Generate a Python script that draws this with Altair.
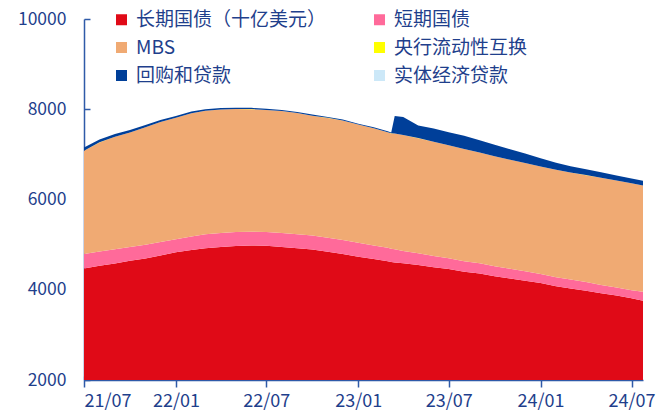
import altair as alt
import pandas as pd

dates = [
    "2021-07-01", "2021-08-01", "2021-09-01", "2021-10-01", "2021-11-01", "2021-12-01",
    "2022-01-01", "2022-02-01", "2022-03-01", "2022-04-01", "2022-05-01", "2022-06-01",
    "2022-07-01", "2022-08-01", "2022-09-01", "2022-10-01", "2022-11-01", "2022-12-01",
    "2023-01-01", "2023-02-01", "2023-03-01", "2023-03-08", "2023-03-15",
    "2023-04-01", "2023-05-01", "2023-06-01", "2023-07-01", "2023-08-01", "2023-09-01",
    "2023-10-01", "2023-11-01", "2023-12-01", "2024-01-01", "2024-02-01", "2024-03-01",
    "2024-04-01", "2024-05-01", "2024-06-01", "2024-07-01", "2024-07-24",
]

long_tsy = [4470, 4530, 4580, 4640, 4690, 4760, 4830, 4880, 4920, 4950, 4970, 4980,
            4975, 4950, 4920, 4890, 4840, 4790, 4730, 4680, 4630, 4615, 4605,
            4590, 4550, 4500, 4460, 4400, 4360, 4300, 4250, 4200, 4150, 4080, 4030,
            3980, 3920, 3870, 3810, 3755]
bills = [320, 320, 320, 310, 310, 300, 290, 300, 310, 310, 310, 305,
         305, 310, 310, 310, 310, 310, 310, 300, 300, 295, 290,
         270, 260, 250, 240, 232, 225, 220, 215, 208, 200, 198, 195,
         190, 185, 182, 180, 200]
mbs = [2290, 2415, 2490, 2535, 2600, 2655, 2690, 2732, 2735, 2732, 2725, 2717,
       2704, 2700, 2686, 2657, 2658, 2649, 2620, 2600, 2560, 2555, 2565,
       2570, 2550, 2530, 2500, 2488, 2455, 2440, 2415, 2402, 2380, 2382, 2375,
       2370, 2375, 2368, 2370, 2355]
swaps = [1] * 40
repo = [70, 65, 60, 55, 50, 45, 40, 38, 35, 33, 30, 28,
        26, 25, 24, 23, 22, 21, 20, 20, 20, 20, 390,
        400, 280, 290, 290, 290, 271, 253, 234, 206, 181, 153, 136,
        130, 123, 113, 106, 103]
real_loans = [0] * 40

series_names = ["长期国债（十亿美元）", "短期国债", "MBS", "央行流动性互换", "回购和贷款", "实体经济贷款"]
series_vals = [long_tsy, bills, mbs, swaps, repo, real_loans]
colors = ["#E00A17", "#FF6A9A", "#F0AA73", "#FFFF00", "#003F99", "#CCE8F8"]

rows = []
for k, (name, vals) in enumerate(zip(series_names, series_vals)):
    for d, v in zip(dates, vals):
        rows.append({"date": d, "series": name, "value": v, "k": k})
df = pd.DataFrame(rows)

FONT = "Noto Sans CJK SC"
TXT = "#1F3F8C"
AXC = "#2F5AA8"

major = [alt.DateTime(year=y, month=m, date=1, utc=True)
         for y, m in [(2021, 7), (2022, 1), (2022, 7), (2023, 1), (2023, 7), (2024, 1), (2024, 7)]]
minor = []
for y in (2021, 2022, 2023, 2024):
    for m in range(1, 13):
        if (y == 2021 and m < 7) or (y == 2024 and m > 7):
            continue
        minor.append(alt.DateTime(year=y, month=m, date=1, utc=True))

xscale = alt.Scale(type="utc", domain=[alt.DateTime(year=2021, month=7, date=1, utc=True),
                                       alt.DateTime(year=2024, month=7, date=24, utc=True)])
yscale = alt.Scale(domain=[2000, 10000])

areas = alt.Chart(df).mark_area(clip=True, interpolate="linear").encode(
    x=alt.X("date:T", scale=xscale,
            axis=alt.Axis(orient="bottom", values=major,
                          labelExpr="utcFormat(datum.value, '%y/%m')",
                          title=None, grid=False, tickSize=7, tickColor=AXC, tickWidth=1.5,
                          domainColor=AXC, domainWidth=1.5, labelFont=FONT,
                          labelFontSize=18, labelColor=TXT, labelPadding=5)),
    y=alt.Y("value:Q", stack="zero", scale=yscale,
            axis=alt.Axis(orient="left", values=[2000, 4000, 6000, 8000, 10000], format="d",
                          title=None, grid=False, ticks=False, domainColor=AXC,
                          domainWidth=1.5, labelFont=FONT, labelFontSize=17.5,
                          labelColor=TXT, labelPadding=18)),
    color=alt.Color("series:N", sort=series_names,
                    scale=alt.Scale(domain=series_names, range=colors),
                    legend=alt.Legend(title=None, orient="none", legendX=28, legendY=-9,
                                      direction="horizontal", columns=2, columnPadding=43,
                                      rowPadding=8, symbolType="square", symbolSize=121,
                                      symbolStrokeWidth=0, labelFont=FONT,
                                      labelFontSize=19, labelColor=TXT, labelLimit=400,
                                      labelOffset=5, padding=0)),
    order=alt.Order("k:Q", sort="ascending"),
)

ticks_layer = alt.Chart(df).mark_point(opacity=0).encode(
    x=alt.X("date:T", scale=xscale,
            axis=alt.Axis(orient="top", offset=-361, values=minor, labels=False,
                          domain=False, grid=False, tickSize=4, tickColor=AXC,
                          tickWidth=1.2, title=None)),
    y=alt.Y("value:Q", scale=yscale,
            axis=alt.Axis(orient="right", offset=-559, values=[2000, 4000, 6000, 8000, 10000],
                          labels=False, domain=False, grid=False, tickSize=6,
                          tickColor=AXC, tickWidth=1.5, title=None)),
)

chart = alt.layer(areas, ticks_layer).resolve_axis(
    x="independent", y="independent"
).properties(
    width=559, height=361,
    padding={"left": 84, "top": 19, "right": 23, "bottom": 38},
    autosize=alt.AutoSizeParams(type="none"),
    background="white",
).configure_view(stroke=None)

chart.save("out.html", embed_options={"renderer": "svg", "actions": False})
